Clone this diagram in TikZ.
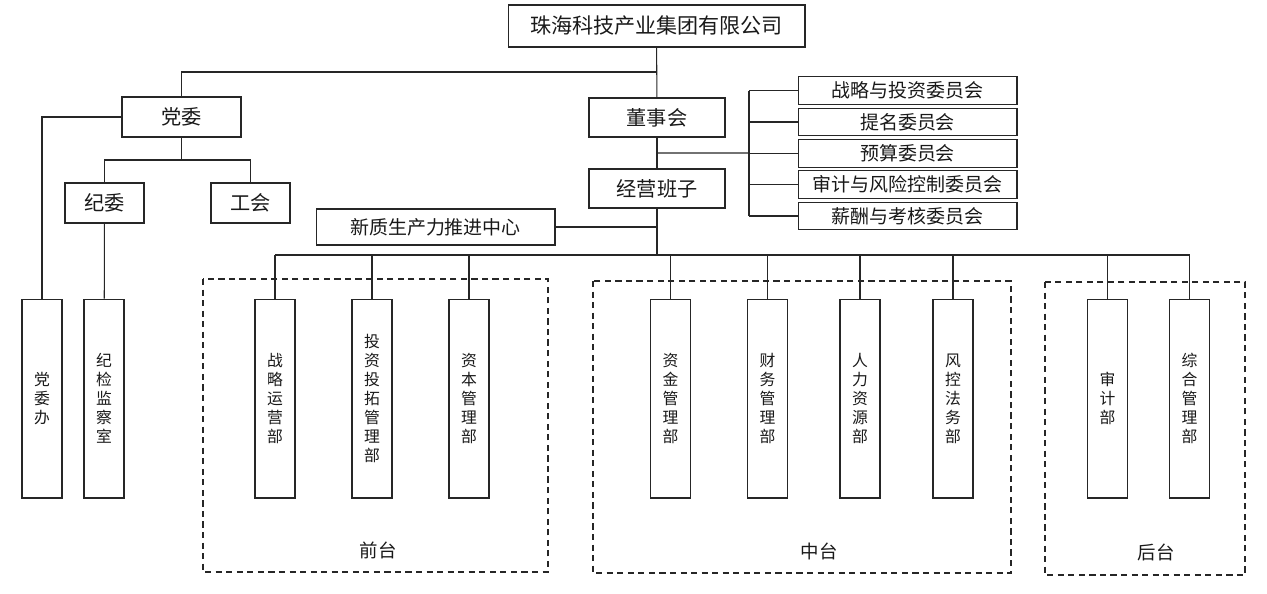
\documentclass[tikz,border=0pt]{standalone}
\usepackage{fontspec}
\newfontfamily\cjk{Noto Sans CJK SC}
\usetikzlibrary{calc}

\tikzset{
  org/.style={draw, rectangle, inner sep=0pt, text=black!90, font=\cjk\fontsize{11.5}{13}\selectfont},
  cmte/.style={org, minimum width=4.38cm, minimum height=0.55cm, font=\cjk\fontsize{10.8}{12}\selectfont},
  dept/.style={org, minimum width=0.8cm, minimum height=3.98cm, align=center, font=\cjk\fontsize{9}{10.8}\selectfont},
  zone/.style={draw, line width=0.9pt, dash pattern=on 3.5pt off 2.5pt},
  zonelabel/.style={font=\cjk\fontsize{10.5}{12}\selectfont, text=black!90}
}

\begin{document}
\begin{tikzpicture}[x=0.02cm, y=-0.02cm, line width=0.6pt, draw=black!85]
\useasboundingbox (0,0) rectangle (1267,593);

% dashed zones
\draw[zone] (203,279) rectangle (548,572);
\draw[zone] (593,281) rectangle (1011,573);
\draw[zone] (1045,282) rectangle (1245,575);
\node[zonelabel] (fz) at (378,550) {前台};
\node[zonelabel] (mz) at (819,551) {中台};
\node[zonelabel] (bz) at (1156,552) {后台};

% top levels
\node[org, minimum width=5.94cm, minimum height=0.84cm, font=\cjk\fontsize{12}{14}\selectfont] (corp) at (656.5,26) {珠海科技产业集团有限公司};
\node[org, minimum width=2.38cm, minimum height=0.8cm] (party) at (181.5,117) {党委};
\node[org, minimum width=2.72cm, minimum height=0.78cm] (board) at (657,117.5) {董事会};
\node[org, minimum width=2.72cm, minimum height=0.78cm] (mgmt) at (657,188.5) {经营班子};
\node[org, minimum width=1.58cm, minimum height=0.8cm] (discip) at (104.5,203) {纪委};
\node[org, minimum width=1.58cm, minimum height=0.8cm] (union) at (250.5,203) {工会};
\node[org, minimum width=4.78cm, minimum height=0.72cm, font=\cjk\fontsize{10.8}{12}\selectfont] (npc) at (435.5,227) {新质生产力推进中心};

% committees
\node[cmte] (c1) at (907.5,90.5) {战略与投资委员会};
\node[cmte] (c2) at (907.5,122) {提名委员会};
\node[cmte] (c3) at (907.5,153.5) {预算委员会};
\node[cmte] (c4) at (907.5,184.5) {审计与风险控制委员会};
\node[cmte] (c5) at (907.5,216) {薪酬与考核委员会};

% departments
\node[dept] (pbo) at (42,398.5) {党\\委\\办};
\node[dept] (jjc) at (104,398.5) {纪\\检\\监\\察\\室};
\node[dept] (d1) at (275,398.5) {战\\略\\运\\营\\部};
\node[dept] (d2) at (372,398.5) {投\\资\\投\\拓\\管\\理\\部};
\node[dept] (d3) at (469,398.5) {资\\本\\管\\理\\部};
\node[dept] (d4) at (670.5,398.5) {资\\金\\管\\理\\部};
\node[dept] (d5) at (767.5,398.5) {财\\务\\管\\理\\部};
\node[dept] (d6) at (860,398.5) {人\\力\\资\\源\\部};
\node[dept] (d7) at (953,398.5) {风\\控\\法\\务\\部};
\node[dept] (d8) at (1107.5,398.5) {审\\计\\部};
\node[dept] (d9) at (1189.5,398.5) {综\\合\\管\\理\\部};

% junctions
\coordinate (ptop) at (657,72);
\coordinate (pbus) at (181.5,160);
\coordinate (cbus) at (749,153);
\coordinate (bus) at (657,255);

% connectors
\draw (corp) -- (board);
\draw (board) -- (mgmt);
\draw (mgmt) -- (bus);
\draw (ptop) -| (party);
\draw (party.west) -| (pbo.north);
\draw (party) -- (pbus);
\draw (discip.north) -- (discip.north |- pbus) -- (union.north |- pbus) -- (union.north);
\draw (discip) -- (jjc);
\draw ($(board.south)!0.5!(mgmt.north)$) -- (cbus);
\draw (cbus |- c1) -- (cbus |- c5);
\foreach \c in {c1,c2,c3,c4,c5}
  \draw (cbus |- \c) -- (\c.west);
\draw (npc.east) -- (npc.east -| mgmt);
\draw (d1.north |- bus) -- (d9.north |- bus);
\foreach \d in {d1,d2,d3,d4,d5,d6,d7,d8,d9}
  \draw (\d.north |- bus) -- (\d.north);
\end{tikzpicture}
\end{document}
